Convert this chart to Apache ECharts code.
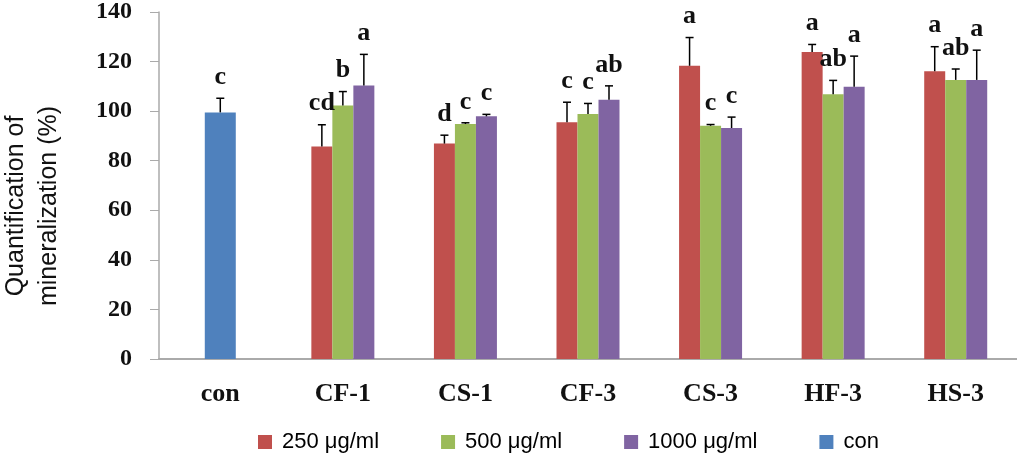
<!DOCTYPE html>
<html>
<head>
<meta charset="utf-8">
<script src="https://cdn.jsdelivr.net/npm/echarts@6/dist/echarts.min.js"></script>
<style>
html,body{margin:0;padding:0;background:#fff;}
#chart{width:1017px;height:454px;}
</style>
</head>
<body>
<div id="chart"></div>
<script>
var categories = ['con', 'CF-1', 'CS-1', 'CF-3', 'CS-3', 'HF-3', 'HS-3'];
var yTicks = [0, 20, 40, 60, 80, 100, 120, 140];

var conValues = [99.5, '-', '-', '-', '-', '-', '-'];
var conErrors = [5.7, null, null, null, null, null, null];
var conLetters = ['c', '', '', '', '', '', ''];

var values250 = ['-', 85.7, 86.9, 95.5, 118.3, 123.9, 116.1];
var errors250 = [null, 8.8, 3.4, 8.1, 11.4, 3.0, 9.9];
var letters250 = ['', 'cd', 'd', 'c', 'a', 'a', 'a'];

var values500 = ['-', 102.3, 94.8, 98.8, 94.1, 106.8, 112.6];
var errors500 = [null, 5.6, 0.5, 4.3, 0.5, 5.6, 4.4];
var letters500 = ['', 'b', 'c', 'c', 'c', 'ab', 'ab'];

var values1000 = ['-', 110.3, 97.9, 104.6, 93.2, 109.8, 112.6];
var errors1000 = [null, 12.6, 0.8, 5.6, 4.4, 12.4, 12.0];
var letters1000 = ['', 'a', 'c', 'ab', 'c', 'a', 'a'];

var seriesNames = ['250 \u03bcg/ml', '500 \u03bcg/ml', '1000 \u03bcg/ml', 'con'];
var colors = ['#C0504D', '#9BBB59', '#8064A2', '#4F81BD'];

var BAR_W = 21, CON_W = 31;

function errData(vals, errs, letters, slot) {
  var out = [];
  for (var i = 0; i < vals.length; i++) {
    if (vals[i] === '-' || errs[i] == null) continue;
    out.push([i, vals[i], errs[i], letters[i], slot]);
  }
  return out;
}
var errorItems = []
  .concat(errData(conValues, conErrors, conLetters, 0))
  .concat(errData(values250, errors250, letters250, -1))
  .concat(errData(values500, errors500, letters500, 0))
  .concat(errData(values1000, errors1000, letters1000, 1));

function renderErr(params, api) {
  var cat = api.value(0), v = api.value(1), e = api.value(2);
  var slot = api.value(4);
  var letter = errorItems[params.dataIndex][3];
  var base = api.coord([cat, v]);
  var top = api.coord([cat, v + e]);
  var x = base[0] + slot * BAR_W;
  var children = [
    {type: 'line', shape: {x1: x, y1: base[1], x2: x, y2: top[1]}, style: {stroke: '#000', lineWidth: 1.5}},
    {type: 'line', shape: {x1: x - 4, y1: top[1], x2: x + 4, y2: top[1]}, style: {stroke: '#000', lineWidth: 1.5}}
  ];
  if (letter) {
    children.push({type: 'text', x: x, y: top[1] - 8, style: {
      text: letter, textAlign: 'center', textVerticalAlign: 'bottom',
      font: 'bold 26px "Liberation Serif", "Times New Roman", serif', fill: '#111'
    }});
  }
  return {type: 'group', children: children};
}

var chart = echarts.init(document.getElementById('chart'));
chart.setOption({
  animation: false,
  color: colors,
  grid: {left: 159, width: 861, top: 11, bottom: 95, containLabel: false},
  legend: {
    data: seriesNames, left: 253, top: 426, icon: 'rect', itemWidth: 14, itemHeight: 14,
    itemGap: 62,
    textStyle: {fontFamily: '"Liberation Sans", Arial, sans-serif', fontSize: 22, color: '#000', padding: [0, 0, 0, 5]}
  },
  xAxis: [
    {type: 'category', data: categories,
     axisLine: {lineStyle: {color: '#aaa', width: 2}}, axisTick: {show: false},
     axisLabel: {margin: 22, fontFamily: '"Liberation Serif", "Times New Roman", serif', fontWeight: 'bold', fontSize: 26, color: '#111'}},
    {type: 'category', data: categories, show: false, position: 'bottom'}
  ],
  yAxis: {
    type: 'value', min: 0, max: 140, interval: 20,
    splitLine: {show: false},
    axisLine: {show: true, lineStyle: {color: '#aaa', width: 1.5}},
    axisTick: {show: true, length: 9, lineStyle: {color: '#aaa'}},
    axisLabel: {margin: 27, fontFamily: '"Liberation Serif", "Times New Roman", serif', fontWeight: 'bold', fontSize: 24, color: '#111',
      formatter: function (v) { return yTicks.indexOf(v) >= 0 ? String(v) : ''; }}
  },
  graphic: [{
    type: 'text', x: 33, y: 206, rotation: Math.PI / 2,
    style: {text: 'Quantification of\nmineralization (%)', textAlign: 'center', textVerticalAlign: 'middle',
      font: '25px "Liberation Sans", Arial, sans-serif', lineHeight: 33, fill: '#111'}
  }],
  series: [
    {name: seriesNames[0], type: 'bar', xAxisIndex: 0, data: values250, barWidth: BAR_W, barGap: '0%'},
    {name: seriesNames[1], type: 'bar', xAxisIndex: 0, data: values500, barWidth: BAR_W, barGap: '0%'},
    {name: seriesNames[2], type: 'bar', xAxisIndex: 0, data: values1000, barWidth: BAR_W, barGap: '0%'},
    {name: seriesNames[3], type: 'bar', xAxisIndex: 1, data: conValues, barWidth: CON_W},
    {type: 'custom', xAxisIndex: 0, renderItem: renderErr, data: errorItems, z: 10, silent: true}
  ]
});
</script>
</body>
</html>
